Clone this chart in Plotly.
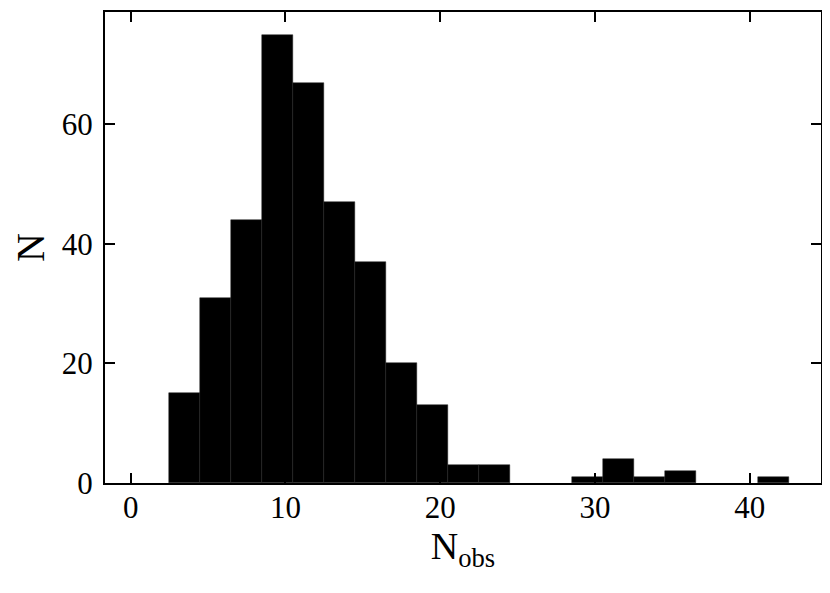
import plotly.graph_objects as go

# Histogram bins (width 2) and counts
bin_centers = [3.5, 5.5, 7.5, 9.5, 11.5, 13.5, 15.5, 17.5, 19.5, 21.5, 23.5,
               25.5, 27.5, 29.5, 31.5, 33.5, 35.5, 37.5, 39.5, 41.5]
counts = [15, 31, 44, 75, 67, 47, 37, 20, 13, 3, 3,
          0, 0, 1, 4, 1, 2, 0, 0, 1]
bin_width = 2

x_ticks = [0, 10, 20, 30, 40]
y_ticks = [0, 20, 40, 60]

fig = go.Figure()
fig.add_trace(go.Bar(
    x=bin_centers, y=counts, width=[bin_width] * len(bin_centers),
    marker=dict(color="black",
                line=dict(color=["#222222" if c > 0 else "rgba(0,0,0,0)" for c in counts],
                          width=0.5)),
    showlegend=False,
))

font_family = "Liberation Serif"
axis_common = dict(
    showline=True, linecolor="black", linewidth=2, mirror="ticks",
    ticks="inside", ticklen=10, tickwidth=2, tickcolor="black",
    showgrid=False, zeroline=False,
    tickfont=dict(family=font_family, size=31, color="black"),
)

fig.update_layout(
    width=822, height=585,
    margin=dict(l=97, r=9, t=2, b=110),
    paper_bgcolor="white", plot_bgcolor="white",
    bargap=0,
    xaxis=dict(range=[-1.66, 44.6], tickvals=x_ticks, ticklabelstandoff=-4,
               title=dict(text="N<sub>obs</sub>", font=dict(family=font_family, size=38, color="black"),
                          standoff=6),
               **axis_common),
    yaxis=dict(range=[0, 78.8], tickvals=y_ticks, ticklabelstandoff=4,
               title=dict(text="N", font=dict(family=font_family, size=40, color="black"),
                          standoff=8),
               **axis_common),
)

fig.write_html("out.html")
